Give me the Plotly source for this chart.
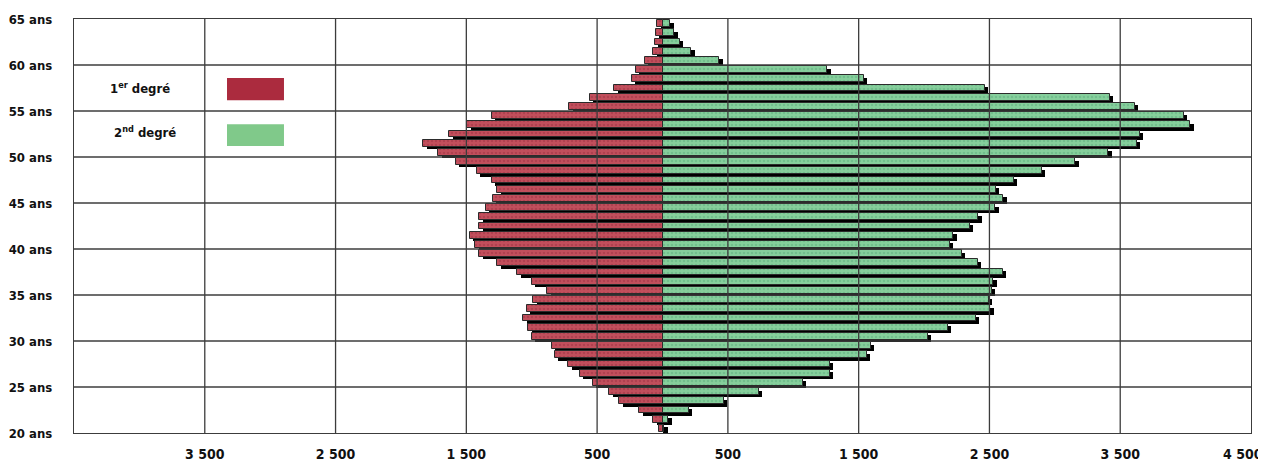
import plotly.graph_objects as go

# ---- data ----
ages = list(range(20, 65))  # one bar per age, 20 .. 64
premier_degre = [25, 70, 177, 330, 407, 534, 631, 720, 822, 847,
                 1000, 1026, 1064, 1038, 987, 880, 1000, 1110, 1263, 1400,
                 1433, 1472, 1400, 1400, 1349, 1298, 1263, 1306, 1421, 1579,
                 1714, 1829, 1630, 1492, 1306, 712, 554, 368, 236, 203,
                 134, 70, 58, 50, 40]
second_degre = [15, 45, 200, 470, 735, 1075, 1280, 1280, 1560, 1595,
                2030, 2180, 2395, 2505, 2495, 2520, 2530, 2600, 2410, 2290,
                2195, 2225, 2350, 2415, 2545, 2605, 2550, 2685, 2900, 3155,
                3410, 3625, 3650, 4035, 3985, 3610, 3420, 2465, 1540, 1260,
                435, 220, 130, 90, 60]

x_tickvals = [-3500, -2500, -1500, -500, 500, 1500, 2500, 3500, 4500]
x_ticktext = ["3 500", "2 500", "1 500", "500", "500", "1 500", "2 500", "3 500", "4 500"]
y_tickvals = [20, 25, 30, 35, 40, 45, 50, 55, 60, 65]
y_ticktext = [f"{v} ans" for v in y_tickvals]

# ---- styling ----
FONT = "DejaVu Sans Condensed, DejaVu Sans, sans-serif"
RED = "#c24f5c"
RED_DOT = "#9e3344"
RED_LEG = "#ab2b3e"
GREEN = "#86cf9c"
GREEN_DOT = "#5eae7e"
GREEN_LEG = "#80c98a"
OUTLINE = "#2b2b2b"
GRID = "#3c3c3c"
BAR_W = 0.72
SH_DY = 0.26
SH_DX = 26
TICKFONT_X = dict(family=FONT, size=14, color="#111111", weight="bold")

yc = [a + 0.5 for a in ages]
ys = [a + 0.5 - SH_DY for a in ages]

fig = go.Figure()

# drop shadows
fig.add_trace(go.Bar(y=ys, x=[-v for v in premier_degre], base=SH_DX, orientation="h",
                     width=BAR_W, marker=dict(color="#000000", line=dict(width=0)),
                     hoverinfo="skip", showlegend=False))
fig.add_trace(go.Bar(y=ys, x=second_degre, base=SH_DX, orientation="h",
                     width=BAR_W, marker=dict(color="#000000", line=dict(width=0)),
                     hoverinfo="skip", showlegend=False))

# bars
fig.add_trace(go.Bar(y=yc, x=[-v for v in premier_degre], base=0, orientation="h",
                     width=BAR_W, name="1er degré", showlegend=False,
                     marker=dict(color=RED, line=dict(color=OUTLINE, width=1),
                                 pattern=dict(shape=".", bgcolor=RED, fgcolor=RED_DOT,
                                              size=4, solidity=0.35))))
fig.add_trace(go.Bar(y=yc, x=second_degre, base=0, orientation="h",
                     width=BAR_W, name="2nd degré", showlegend=False,
                     marker=dict(color=GREEN, line=dict(color=OUTLINE, width=1),
                                 pattern=dict(shape=".", bgcolor=GREEN, fgcolor=GREEN_DOT,
                                              size=4, solidity=0.35))))

shapes = []
for v in x_tickvals[:-1]:
    shapes.append(dict(type="line", xref="x", yref="paper", x0=v, x1=v, y0=0, y1=1,
                       line=dict(color=GRID, width=1.3), layer="above"))
for v in y_tickvals[1:-1]:
    shapes.append(dict(type="line", xref="paper", yref="y", x0=0, x1=1, y0=v, y1=v,
                       line=dict(color=GRID, width=1.3), layer="above"))
shapes.append(dict(type="rect", xref="paper", yref="paper", x0=0.130, x1=0.1784,
                   y0=0.804, y1=0.8575, fillcolor=RED_LEG, line=dict(width=0)))
shapes.append(dict(type="rect", xref="paper", yref="paper", x0=0.130, x1=0.1784,
                   y0=0.693, y1=0.746, fillcolor=GREEN_LEG, line=dict(width=0)))

annotations = [
    dict(xref="paper", yref="paper", x=0.0833, y=0.833, xanchor="right", yanchor="middle",
         text="1<sup>er</sup> degré", showarrow=False,
         font=dict(family=FONT, size=13, color="#111111", weight="bold")),
    dict(xref="paper", yref="paper", x=0.0884, y=0.727, xanchor="right", yanchor="middle",
         text="2<sup>nd</sup> degré", showarrow=False,
         font=dict(family=FONT, size=13, color="#111111", weight="bold")),
    # the last x label sits at the right edge of the window: drawn nudged left so it stays inside
    dict(xref="x", yref="paper", x=x_tickvals[-1], y=0, yshift=-21, xshift=-8,
         xanchor="center", yanchor="middle", text=x_ticktext[-1], showarrow=False,
         font=TICKFONT_X),
]

# the page adds an 8px body margin, so the figure is sized to fit the 1266x466 window
fig.update_layout(
    width=1258, height=458,
    margin=dict(l=66, r=15, t=11, b=33),
    paper_bgcolor="white", plot_bgcolor="white",
    barmode="overlay", bargap=0,
    shapes=shapes, annotations=annotations,
    font=dict(family=FONT, color="#111111"),
    xaxis=dict(range=[-4500, 4500], tickvals=x_tickvals[:-1], ticktext=x_ticktext[:-1],
               showgrid=False, zeroline=False, showline=True, mirror=True,
               linecolor=GRID, linewidth=1.3, ticks="", automargin=False,
               tickfont=TICKFONT_X, ticklabelstandoff=8),
    yaxis=dict(range=[20, 65], tickvals=y_tickvals, ticktext=y_ticktext,
               showgrid=False, zeroline=False, showline=True, mirror=True,
               linecolor=GRID, linewidth=1.3, ticks="", automargin=False,
               ticklabeloverflow="allow",
               tickfont=dict(family=FONT, size=13, color="#111111", weight="bold"),
               ticklabelstandoff=18),
)

fig.write_html("out.html")
